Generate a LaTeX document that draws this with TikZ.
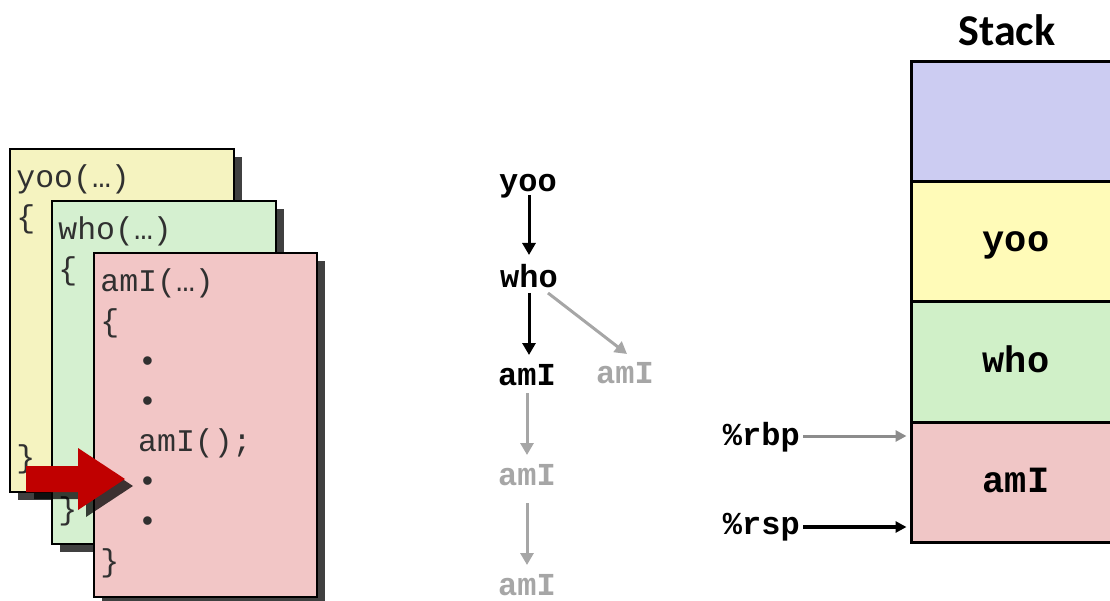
\documentclass[tikz,border=0pt]{standalone}
\usepackage{fontspec}
\setmainfont{Liberation Sans}
\newfontfamily\monofont{Liberation Mono}
\newfontfamily\titlefont{Carlito}
\usetikzlibrary{arrows.meta,calc,shadows}
\definecolor{fyellow}{HTML}{F5F3C0}
\definecolor{fgreen}{HTML}{D5F0D0}
\definecolor{fpink}{HTML}{F2C6C6}
\definecolor{spurple}{HTML}{CCCCF2}
\definecolor{syellow}{HTML}{FFFBB8}
\definecolor{sgreen}{HTML}{D0F0C8}
\definecolor{spink}{HTML}{F0C6C6}
\definecolor{tgray}{HTML}{A6A6A6}
\definecolor{rgray}{HTML}{8C8C8C}
\definecolor{redarrow}{HTML}{C00000}
\definecolor{shadowgray}{HTML}{404040}
\definecolor{codetext}{HTML}{303030}
\begin{document}
\begin{tikzpicture}[x=1pt,y=-1pt,
  frame/.style={draw=black,line width=1.6pt,inner sep=0pt,
    drop shadow={shadow xshift=8pt,shadow yshift=-8pt,fill=shadowgray,opacity=1}},
  code/.style={font=\monofont\fontsize{31.5}{40}\selectfont,text=codetext,
    align=left,inner sep=0pt,anchor=base west},
  tnode/.style={font=\monofont\bfseries\fontsize{32}{38}\selectfont,inner sep=0pt,anchor=base},
  tblack/.style={draw=black,line width=3pt,-{Triangle[length=12pt,width=13pt]}},
  tgrayarr/.style={draw=tgray,line width=3pt,-{Triangle[length=12pt,width=13pt]}},
  cell/.style={draw=black,line width=3pt,minimum width=204pt,minimum height=120pt,inner sep=0pt},
  slabel/.style={font=\monofont\bfseries\fontsize{37}{42}\selectfont,inner sep=0pt,anchor=base},
  reg/.style={font=\monofont\bfseries\fontsize{32}{38}\selectfont,inner sep=0pt,anchor=east},
]
\useasboundingbox (0,0) rectangle (1110,601);

% code frames
\node[frame,fill=fyellow,minimum width=224pt,minimum height=343pt] (f1) at (122,320.5) {};
\node[code] (c1) at ($(f1.north west)+(7,319)$) {yoo(…)\\\{\\~\\~\\~\\~\\~\\\}};
\node[frame,fill=fgreen,minimum width=224pt,minimum height=343pt] (f2) at (164,372.5) {};
\node[code] (c2) at ($(f2.north west)+(7,319)$) {who(…)\\\{\\~\\~\\~\\~\\~\\\}};
\node[frame,fill=fpink,minimum width=223pt,minimum height=344pt] (f3) at (205.5,425) {};
\node[code] (c3) at ($(f3.north west)+(7,319)$) {amI(…)\\\{\\~~•\\~~•\\~~amI();\\~~•\\~~•\\\}};

% red arrow with shadow
\fill[black,opacity=0.75,shift={(8,7)}] (26,466) -- (78,466) -- (78,448) -- (125,479) -- (78,510) -- (78,492) -- (26,492) -- cycle;
\fill[redarrow] (26,466) -- (78,466) -- (78,448) -- (125,479) -- (78,510) -- (78,492) -- (26,492) -- cycle;

% call tree
\node[tnode] (t1) at (528,192) {yoo};
\node[tnode] (t2) at (529,288) {who};
\node[tnode] (t3) at (527,385) {amI};
\node[tnode,text=tgray] (t4) at (625,383) {amI};
\node[tnode,text=tgray] (t5) at (527,485) {amI};
\node[tnode,text=tgray] (t6) at (527,595) {amI};
\draw[tblack] ($(t1.base)+(1,3)$) -- ($(t2.base)+(0,-33)$);
\draw[tblack] ($(t2.base)+(0,5)$) -- ($(t3.base)+(2,-30)$);
\draw[tgrayarr] ($(t2.base)+(19,5)$) -- ($(t4.base)+(2,-29)$);
\draw[tgrayarr] ($(t3.base)+(0,8)$) -- ($(t5.base)+(0,-30)$);
\draw[tgrayarr] ($(t5.base)+(0,18)$) -- ($(t6.base)+(0,-30)$);

% stack
\node[font=\titlefont\bfseries\fontsize{44}{50}\selectfont,inner sep=0pt] (title) at (1007,30) {Stack};
\node[cell,fill=spurple] (s1) at (1013,122) {};
\node[cell,fill=syellow] (s2) at (1013,242) {};
\node[cell,fill=sgreen] (s3) at (1013,362) {};
\node[cell,fill=spink] (s4) at (1013,482) {};
\node[slabel] (l2) at ($(s2.center)+(3,10)$) {yoo};
\node[slabel] (l3) at ($(s3.center)+(3,10)$) {who};
\node[slabel] (l4) at ($(s4.center)+(3,10)$) {amI};

% registers
\node[reg] (r1) at (800,437) {\%rbp};
\node[reg] (r2) at (800,527) {\%rsp};
\draw[draw=rgray,line width=3pt,-{Triangle[length=11pt,width=11pt]},shorten >=3pt]
  ($(r1.east)+(3,-1)$) -- ($(s4.west |- r1.east)+(0,-1)$);
\draw[draw=black,line width=3.5pt,-{Triangle[length=11pt,width=11pt]},shorten >=3pt]
  ($(r2.east)+(3,0)$) -- (s4.west |- r2.east);
\end{tikzpicture}
\end{document}
